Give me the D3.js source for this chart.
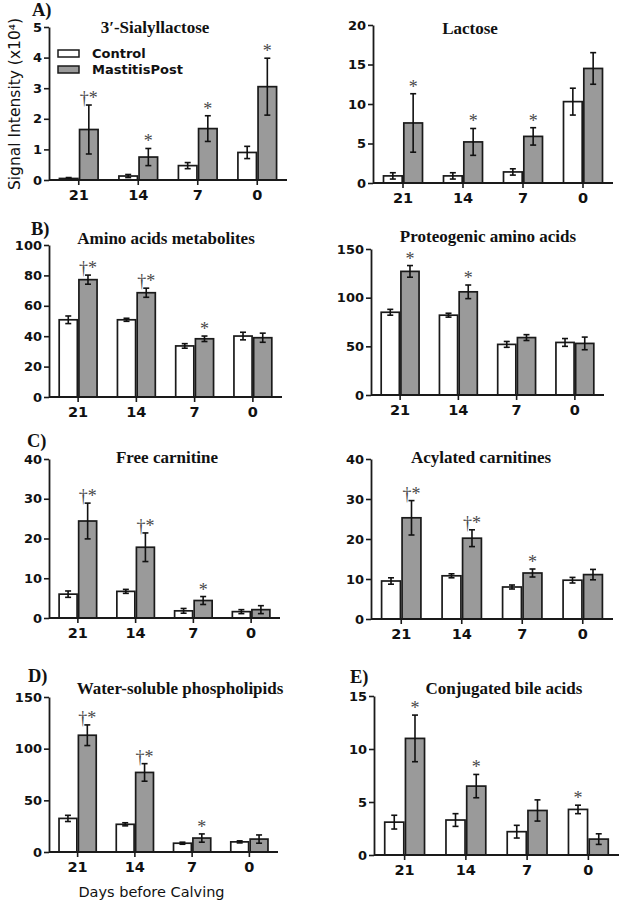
<!DOCTYPE html>
<html><head><meta charset="utf-8">
<script src="https://cdn.jsdelivr.net/npm/d3@7"></script>
<style>
html,body{margin:0;padding:0;background:#fff;}
svg{display:block;}
</style></head>
<body>
<svg id="chart" width="622" height="900"></svg>
<script>
// ---------- DATA ----------
const categories = ["21", "14", "7", "0"];
const seriesNames = ["Control", "MastitisPost"];

const sialylTicks = [0, 1, 2, 3, 4, 5];
const sialylControl = [0.05, 0.13, 0.47, 0.90];
const sialylControlErr = [0.03, 0.05, 0.10, 0.20];
const sialylMastitis = [1.65, 0.75, 1.68, 3.05];
const sialylMastitisErr = [0.80, 0.28, 0.42, 0.93];
const sialylMarks = ["†*", "*", "*", "*"];

const lactoseTicks = [0, 5, 10, 15, 20];
const lactoseControl = [0.9, 0.9, 1.4, 10.3];
const lactoseControlErr = [0.4, 0.4, 0.4, 1.7];
const lactoseMastitis = [7.6, 5.2, 5.9, 14.5];
const lactoseMastitisErr = [3.7, 1.7, 1.1, 2.0];
const lactoseMarks = ["*", "*", "*", ""];

const aaMetTicks = [0, 20, 40, 60, 80, 100];
const aaMetControl = [50.8, 50.8, 33.6, 40.1];
const aaMetControlErr = [2.5, 1.0, 1.5, 2.5];
const aaMetMastitis = [77.2, 68.6, 38.3, 39.0];
const aaMetMastitisErr = [3.0, 3.0, 1.8, 3.0];
const aaMetMarks = ["†*", "†*", "*", ""];

const protTicks = [0, 50, 100, 150];
const protControl = [85, 82, 52, 54];
const protControlErr = [3, 2, 3, 4];
const protMastitis = [127, 106, 59, 53];
const protMastitisErr = [6, 7, 3, 6.5];
const protMarks = ["*", "*", "", ""];

const freeCarnTicks = [0, 10, 20, 30, 40];
const freeCarnControl = [6.0, 6.7, 1.8, 1.6];
const freeCarnControlErr = [0.8, 0.5, 0.6, 0.5];
const freeCarnMastitis = [24.4, 17.8, 4.4, 2.1];
const freeCarnMastitisErr = [4.5, 3.6, 1.0, 1.0];
const freeCarnMarks = ["†*", "†*", "*", ""];

const acylCarnTicks = [0, 10, 20, 30, 40];
const acylCarnControl = [9.5, 10.8, 8.0, 9.7];
const acylCarnControlErr = [0.8, 0.5, 0.5, 0.7];
const acylCarnMastitis = [25.3, 20.2, 11.5, 11.1];
const acylCarnMastitisErr = [4.3, 2.1, 1.0, 1.3];
const acylCarnMarks = ["†*", "†*", "*", ""];

const phosphoTicks = [0, 50, 100, 150];
const phosphoControl = [32.5, 26.8, 8.5, 9.8];
const phosphoControlErr = [3, 1.5, 1, 1];
const phosphoMastitis = [113, 77, 13.5, 12.5];
const phosphoMastitisErr = [10, 8.5, 4, 4];
const phosphoMarks = ["†*", "†*", "*", ""];

const bileTicks = [0, 5, 10, 15];
const bileControl = [3.1, 3.3, 2.2, 4.3];
const bileControlErr = [0.65, 0.6, 0.6, 0.4];
const bileMastitis = [11.0, 6.5, 4.2, 1.5];
const bileMastitisErr = [2.2, 1.1, 1.0, 0.5];
const bileMarks = ["*", "*", "", ""];
const bileControlMarks = ["", "", "", "*"];

// ---------- LAYOUT ----------
const panels = [
  {title: "3′-Sialyllactose", tx: 155, ty: 33, label: "A)", lx: 32, ly: 16,
   xa: 49, xb: 287, y0: 180, yTop: 27, ticks: sialylTicks,
   ctrl: sialylControl, ctrlErr: sialylControlErr, mast: sialylMastitis, mastErr: sialylMastitisErr,
   marks: sialylMarks, legend: true},
  {title: "Lactose", tx: 470, ty: 34,
   xa: 373, xb: 613, y0: 183, yTop: 25, ticks: lactoseTicks,
   ctrl: lactoseControl, ctrlErr: lactoseControlErr, mast: lactoseMastitis, mastErr: lactoseMastitisErr,
   marks: lactoseMarks},
  {title: "Amino acids metabolites", tx: 166, ty: 244, label: "B)", lx: 31, ly: 235,
   xa: 49, xb: 282, y0: 397, yTop: 245, ticks: aaMetTicks,
   ctrl: aaMetControl, ctrlErr: aaMetControlErr, mast: aaMetMastitis, mastErr: aaMetMastitisErr,
   marks: aaMetMarks},
  {title: "Proteogenic amino acids", tx: 488, ty: 242,
   xa: 371, xb: 604, y0: 395, yTop: 249, ticks: protTicks,
   ctrl: protControl, ctrlErr: protControlErr, mast: protMastitis, mastErr: protMastitisErr,
   marks: protMarks},
  {title: "Free carnitine", tx: 167, ty: 463, label: "C)", lx: 27, ly: 447,
   xa: 49, xb: 280, y0: 618, yTop: 459, ticks: freeCarnTicks,
   ctrl: freeCarnControl, ctrlErr: freeCarnControlErr, mast: freeCarnMastitis, mastErr: freeCarnMastitisErr,
   marks: freeCarnMarks},
  {title: "Acylated carnitines", tx: 481, ty: 463,
   xa: 371, xb: 613, y0: 619, yTop: 459, ticks: acylCarnTicks,
   ctrl: acylCarnControl, ctrlErr: acylCarnControlErr, mast: acylCarnMastitis, mastErr: acylCarnMastitisErr,
   marks: acylCarnMarks},
  {title: "Water-soluble phospholipids", tx: 180, ty: 694, label: "D)", lx: 28, ly: 682,
   xa: 49, xb: 278, y0: 852, yTop: 697, ticks: phosphoTicks,
   ctrl: phosphoControl, ctrlErr: phosphoControlErr, mast: phosphoMastitis, mastErr: phosphoMastitisErr,
   marks: phosphoMarks, xlabel: "Days before Calving"},
  {title: "Conjugated bile acids", tx: 504, ty: 694, label: "E)", lx: 350, ly: 683,
   xa: 374, xb: 619, y0: 855, yTop: 696, ticks: bileTicks,
   ctrl: bileControl, ctrlErr: bileControlErr, mast: bileMastitis, mastErr: bileMastitisErr,
   marks: bileMarks, ctrlMarks: bileControlMarks}
];

const svg = d3.select("#chart");
const sans = "'DejaVu Sans', sans-serif";
const serif = "'Liberation Serif', 'Times New Roman', serif";
const ink = "#1a1a1a";
const grayFill = "#9a9a9a";

function drawPanel(p) {
  const g = svg.append("g");
  const yMax = d3.max(p.ticks);
  const y = d3.scaleLinear().domain([0, yMax]).range([p.y0, p.yTop]);
  const x0 = d3.scaleBand().domain(categories).range([p.xa, p.xb])
    .paddingInner(0.35).paddingOuter(0.175);
  const x1 = d3.scaleBand().domain(seriesNames).range([0, x0.bandwidth()]).paddingInner(0.08);

  const rows = categories.map((c, i) => ({c, i}));
  const series = [
    {name: "Control", vals: p.ctrl, errs: p.ctrlErr, fill: "#ffffff", marks: p.ctrlMarks},
    {name: "MastitisPost", vals: p.mast, errs: p.mastErr, fill: grayFill, marks: p.marks}
  ];
  series.forEach(s => {
    const gs = g.append("g");
    gs.selectAll("rect").data(rows).join("rect")
      .attr("x", d => x0(d.c) + x1(s.name))
      .attr("y", d => y(s.vals[d.i]))
      .attr("width", x1.bandwidth())
      .attr("height", d => p.y0 - y(s.vals[d.i]))
      .attr("fill", s.fill)
      .attr("stroke", ink)
      .attr("stroke-width", 1.7);
    const cx = d => x0(d.c) + x1(s.name) + x1.bandwidth() / 2;
    const lo = d => y(Math.max(0, s.vals[d.i] - s.errs[d.i]));
    const hi = d => y(s.vals[d.i] + s.errs[d.i]);
    gs.selectAll("line.eb").data(rows).join("line").attr("class", "eb")
      .attr("x1", cx).attr("x2", cx).attr("y1", lo).attr("y2", hi)
      .attr("stroke", "#111").attr("stroke-width", 1.6);
    gs.selectAll("line.capT").data(rows).join("line").attr("class", "capT")
      .attr("x1", d => cx(d) - 3).attr("x2", d => cx(d) + 3).attr("y1", hi).attr("y2", hi)
      .attr("stroke", "#111").attr("stroke-width", 1.6);
    gs.selectAll("line.capB").data(rows).join("line").attr("class", "capB")
      .attr("x1", d => cx(d) - 3).attr("x2", d => cx(d) + 3).attr("y1", lo).attr("y2", lo)
      .attr("stroke", "#111").attr("stroke-width", 1.6);
    if (s.marks) {
      gs.selectAll("text.mark").data(rows.filter(d => s.marks[d.i])).join("text").attr("class", "mark")
        .attr("x", d => cx(d))
        .attr("y", d => hi(d) - 1)
        .attr("text-anchor", "middle")
        .attr("font-family", serif)
        .attr("font-size", 18)
        .attr("fill", "#484848")
        .text(d => s.marks[d.i]);
    }
  });

  const ya = g.append("g").attr("transform", `translate(${p.xa},0)`)
    .call(d3.axisLeft(y).tickValues(p.ticks).tickSize(5).tickSizeOuter(0).tickPadding(2).tickFormat(d3.format("d")));
  const xaG = g.append("g").attr("transform", `translate(0,${p.y0})`)
    .call(d3.axisBottom(x0).tickSize(5).tickSizeOuter(0).tickPadding(5));
  [ya, xaG].forEach(a => {
    a.select(".domain").attr("stroke", ink).attr("stroke-width", 1.8);
    a.selectAll(".tick line").attr("stroke", ink).attr("stroke-width", 1.6);
    a.selectAll(".tick text").attr("fill", "#111").attr("font-family", sans).attr("font-weight", "bold");
  });
  ya.selectAll(".tick text").attr("font-size", 13);
  xaG.selectAll(".tick text").attr("font-size", 14.5);
  xaG.select(".domain").attr("d", `M${p.xa},0H${p.xb}`);

  g.append("text").attr("x", p.tx).attr("y", p.ty).attr("text-anchor", "middle")
    .attr("font-family", serif).attr("font-weight", "bold").attr("font-size", 17)
    .attr("fill", "#111").text(p.title);
  if (p.label) {
    g.append("text").attr("x", p.lx).attr("y", p.ly)
      .attr("font-family", serif).attr("font-weight", "bold").attr("font-size", 18.5)
      .attr("fill", "#111").text(p.label);
  }
  if (p.xlabel) {
    g.append("text").attr("x", (p.xa + p.xb) / 2 - 12).attr("y", 897).attr("text-anchor", "middle")
      .attr("font-family", sans).attr("font-size", 14.5).attr("fill", "#111").text(p.xlabel);
  }
  if (p.legend) {
    const lg = g.append("g");
    series.forEach((s, i) => {
      lg.append("rect").attr("x", 58).attr("y", 50 + i * 16).attr("width", 21).attr("height", 7)
        .attr("fill", s.fill).attr("stroke", ink).attr("stroke-width", 1.5);
      lg.append("text").attr("x", 92).attr("y", 58 + i * 16)
        .attr("font-family", sans).attr("font-weight", "bold").attr("font-size", 13)
        .attr("fill", "#111").text(s.name);
    });
  }
}

panels.forEach(drawPanel);

svg.append("text")
  .attr("transform", "translate(20,104) rotate(-90)")
  .attr("text-anchor", "middle")
  .attr("font-family", sans).attr("font-size", 15.5).attr("fill", "#111")
  .text("Signal Intensity (x10⁴)");
</script>
</body></html>
